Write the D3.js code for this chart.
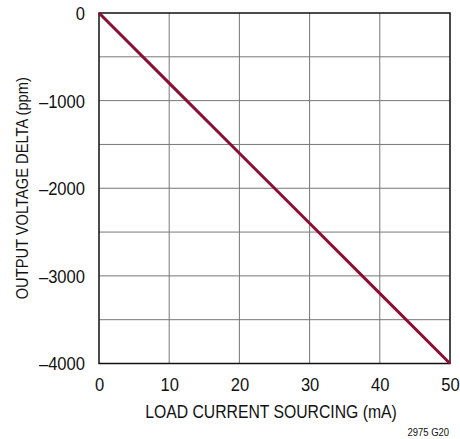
<!DOCTYPE html>
<html>
<head>
<meta charset="utf-8">
<script src="https://cdn.jsdelivr.net/npm/d3@7"></script>
<style>
  body { margin: 0; background: #fff; }
  svg text { font-family: "Liberation Sans", Arial, sans-serif; fill: #111; }
</style>
</head>
<body>
<svg id="chart" width="460" height="439"></svg>
<script>
// data
const loadCurrent = [0, 10, 20, 30, 40, 50];           // mA
const voltageDelta = [0, -800, -1600, -2400, -3200, -4000]; // ppm
const xTicks = [0, 10, 20, 30, 40, 50];
const yTicks = [0, -1000, -2000, -3000, -4000];
const yGrid = [-500, -1000, -1500, -2000, -2500, -3000, -3500];

const svg = d3.select('#chart'),
      margin = { top: 13, right: 10, bottom: 75.5, left: 99 },
      width = +svg.attr('width') - margin.left - margin.right,
      height = +svg.attr('height') - margin.top - margin.bottom,
      g = svg.append('g').attr('transform', `translate(${margin.left},${margin.top})`);

const x = d3.scaleLinear().domain([0, 50]).range([0, width]);
const y = d3.scaleLinear().domain([-4000, 0]).range([height, 0]);

// narrow the text a bit to look like the condensed face of the original
function squeeze(sel, k) {
    sel.each(function() {
        const t = d3.select(this);
        const w = this.getComputedTextLength();
        t.attr('textLength', w * k).attr('lengthAdjust', 'spacingAndGlyphs');
    });
}

// grid
g.append('g')
    .selectAll('line')
    .data(xTicks.slice(1, -1))
    .join('line')
    .attr('x1', d => x(d)).attr('x2', d => x(d))
    .attr('y1', 0).attr('y2', height)
    .attr('stroke', '#777').attr('stroke-width', 1);

g.append('g')
    .selectAll('line')
    .data(yGrid)
    .join('line')
    .attr('x1', 0).attr('x2', width)
    .attr('y1', d => y(d)).attr('y2', d => y(d))
    .attr('stroke', '#777').attr('stroke-width', 1);

// frame
g.append('rect')
    .attr('width', width).attr('height', height)
    .attr('fill', 'none').attr('stroke', '#111').attr('stroke-width', 1.5);

// axes (labels only)
const xAxis = g.append('g')
    .attr('transform', `translate(0,${height})`)
    .call(d3.axisBottom(x).tickValues(xTicks).tickSize(0).tickPadding(14.5));
xAxis.select('.domain').remove();
xAxis.selectAll('text').attr('font-size', 18).attr('dy', '0.72em').call(squeeze, 0.92);

const yAxis = g.append('g')
    .call(d3.axisLeft(y).tickValues(yTicks).tickSize(0).tickPadding(14)
        .tickFormat(d => d < 0 ? '\u2013' + Math.abs(d) : d));
yAxis.select('.domain').remove();
yAxis.selectAll('text').attr('font-size', 18).attr('dy', '0.36em').call(squeeze, 0.92);

// line
const line = d3.line()
    .x((d, i) => x(loadCurrent[i]))
    .y(d => y(d));

g.append('path')
    .datum(voltageDelta)
    .attr('fill', 'none')
    .attr('stroke', '#8c0f33')
    .attr('stroke-width', 3)
    .attr('d', line);

// titles
svg.append('text')
    .attr('x', 271)
    .attr('y', 418)
    .attr('text-anchor', 'middle')
    .attr('font-size', 17.5)
    .text('LOAD CURRENT SOURCING (mA)')
    .call(squeeze, 0.9);

svg.append('text')
    .attr('transform', `translate(28,${margin.top + height / 2}) rotate(-90)`)
    .attr('text-anchor', 'middle')
    .attr('font-size', 16.5)
    .text('OUTPUT VOLTAGE DELTA (ppm)')
    .call(squeeze, 0.89);

svg.append('text')
    .attr('x', 449)
    .attr('y', 436)
    .attr('text-anchor', 'end')
    .attr('font-size', 10.5)
    .text('2975 G20')
    .call(squeeze, 0.9);
</script>
</body>
</html>
